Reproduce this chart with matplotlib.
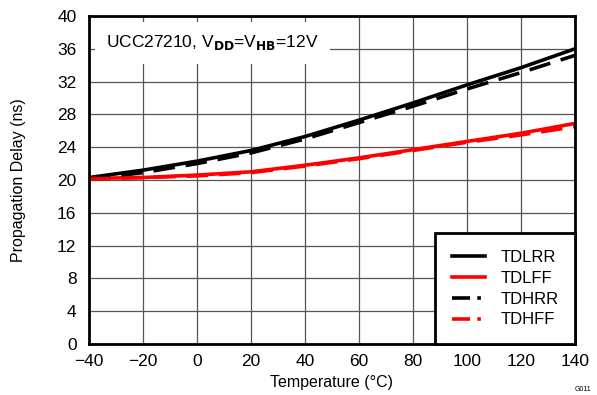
import numpy as np
import matplotlib.pyplot as plt

plt.rcParams['font.family'] = ['Liberation Sans', 'DejaVu Sans']
plt.rcParams['axes.unicode_minus'] = True

temps = [-40, -20, 0, 20, 40, 60, 80, 100, 120, 140]
tdlrr = [20.3, 21.2, 22.3, 23.6, 25.3, 27.3, 29.4, 31.6, 33.7, 36.0]
tdlff = [20.2, 20.3, 20.6, 21.0, 21.8, 22.7, 23.7, 24.7, 25.7, 26.9]
tdhrr = [20.1, 20.9, 22.0, 23.3, 25.0, 27.0, 29.0, 31.1, 33.1, 35.2]
tdhff = [20.1, 20.3, 20.5, 20.9, 21.7, 22.6, 23.6, 24.6, 25.5, 26.5]

xticks = [-40, -20, 0, 20, 40, 60, 80, 100, 120, 140]
yticks = [0, 4, 8, 12, 16, 20, 24, 28, 32, 36, 40]

fig = plt.figure(figsize=(5.97, 3.95), dpi=100)
ax = fig.add_axes([89 / 597, 51 / 395, 486 / 597, 328 / 395])

ax.plot(temps, tdlrr, color='black', lw=2.6, label='TDLRR')
ax.plot(temps, tdlff, color='red', lw=2.6, label='TDLFF')
ax.plot(temps, tdhrr, color='black', lw=2.6, dashes=(6, 3), label='TDHRR')
ax.plot(temps, tdhff, color='red', lw=2.6, dashes=(6, 3), label='TDHFF')

ax.set_xlim(-40, 140)
ax.set_ylim(0, 40)
ax.set_xticks(xticks)
ax.set_yticks(yticks)
ax.set_xticklabels([str(t).replace('-', '\u2212') for t in xticks])
ax.grid(True, color='#555555', lw=0.9)
ax.tick_params(length=0, labelsize=12.5)
ax.tick_params(axis='x', pad=7)
ax.tick_params(axis='y', pad=9)
for sp in ax.spines.values():
    sp.set_linewidth(2)

ax.set_xlabel('Temperature (\u00b0C)', fontsize=11.5)
ax.set_ylabel('Propagation Delay (ns)', fontsize=11.5)
ax.xaxis.set_label_coords(0.5, -0.096)
ax.yaxis.set_label_coords(-0.13, 0.5)

ax.text(0.035, 0.918, r'UCC27210, V$_{\mathbf{DD}}$=V$_{\mathbf{HB}}$=12V',
        transform=ax.transAxes, fontsize=12.5, va='center', ha='left',
        bbox=dict(facecolor='white', edgecolor='none', pad=8), zorder=5)

leg_handles = [
    plt.Line2D([], [], color='black', lw=2.6),
    plt.Line2D([], [], color='red', lw=2.6),
    plt.Line2D([], [], color='black', lw=2.6, dashes=(5, 2, 1, 2)),
    plt.Line2D([], [], color='red', lw=2.6, dashes=(5, 2, 1, 2)),
]
leg = ax.legend(leg_handles, ['TDLRR', 'TDLFF', 'TDHRR', 'TDHFF'],
                loc='lower right', bbox_to_anchor=(1.0, 0.0), fontsize=12,
                fancybox=False, framealpha=1, edgecolor='black',
                borderaxespad=0, handlelength=2.0, labelspacing=0.35,
                borderpad=1.0, handletextpad=0.9)
leg.get_frame().set_linewidth(2)

fig.text(0.99, 0.005, 'G011', fontsize=5, ha='right', va='bottom')

fig.savefig('out.png', dpi=100)
